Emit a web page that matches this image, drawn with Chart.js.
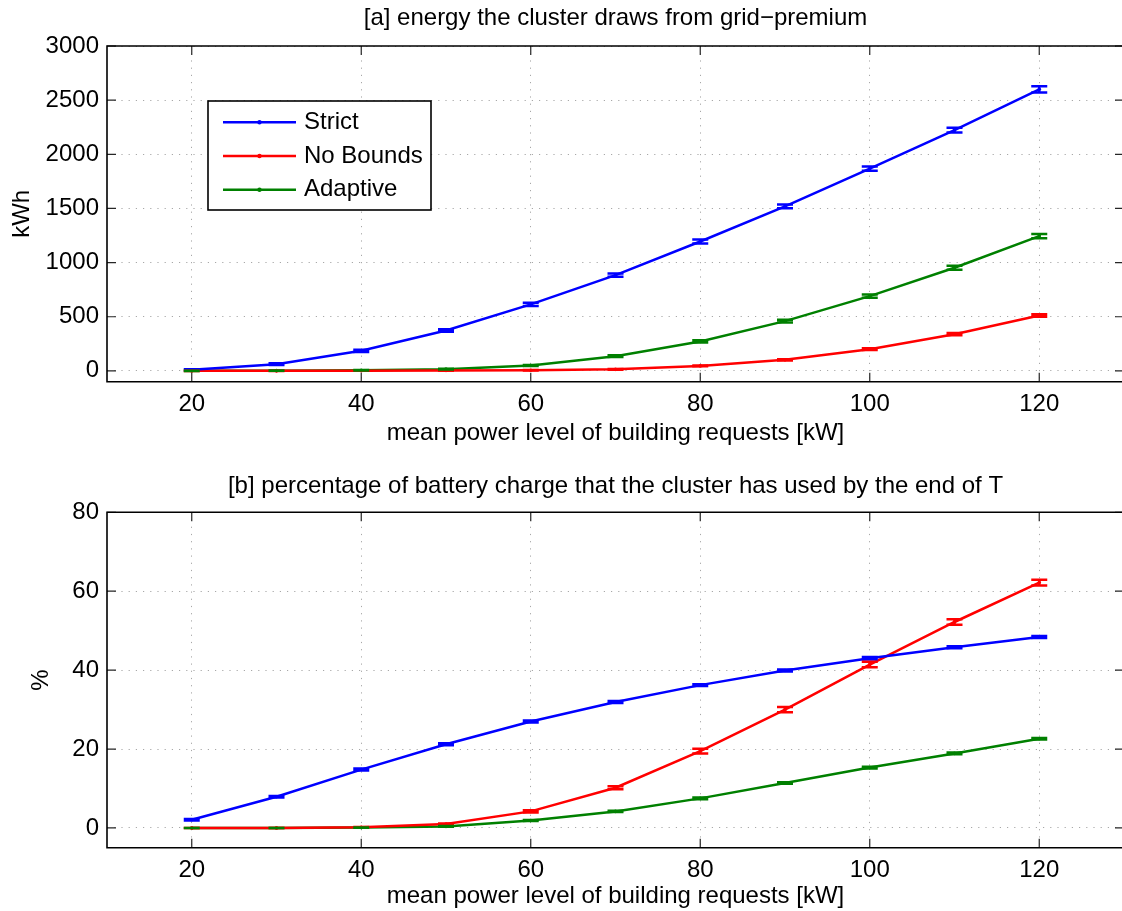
<!DOCTYPE html>
<html>
<head>
<meta charset="utf-8">
<script src="https://cdn.jsdelivr.net/npm/chart.js@4.4.1/dist/chart.umd.min.js"></script>
<style>
  html, body { margin: 0; padding: 0; overflow: hidden; background: #fff; width: 1122px; height: 911px; }
  #wrap { position: relative; width: 1122px; height: 911px; overflow: hidden; }
  #panelA { position: absolute; left: 0; top: 0; }
  #panelB { position: absolute; left: 0; top: 450px; }
</style>
</head>
<body>
<div id="wrap">
<canvas id="panelA" width="1140" height="450"></canvas>
<canvas id="panelB" width="1140" height="461"></canvas>
</div>
<script>
const powerLevels = [20, 30, 40, 50, 60, 70, 80, 90, 100, 110, 120];
const xTickVals = [20, 40, 60, 80, 100, 120];

// [a] kWh from grid-premium
const strictKwh = [10, 62, 185, 373, 614, 884, 1195, 1519, 1867, 2224, 2600];
const noBoundsKwh = [0, 0, 1, 3, 6, 14, 46, 102, 200, 339, 512];
const adaptiveKwh = [0, 2, 5, 16, 50, 136, 272, 459, 690, 952, 1245];
const strictKwhErr = [5, 8, 10, 12, 14, 16, 18, 18, 20, 22, 29];
const noBoundsKwhErr = [0.5, 0.5, 1, 1, 2, 3, 4, 6, 8, 10, 12];
const adaptiveKwhErr = [1, 1, 2, 3, 5, 8, 10, 12, 15, 18, 20];
const kwhTicks = [0, 500, 1000, 1500, 2000, 2500, 3000];

// [b] % of battery charge used
const strictPct = [2.1, 7.9, 14.8, 21.2, 27.0, 31.9, 36.2, 39.9, 43.0, 45.8, 48.4];
const noBoundsPct = [0, 0, 0.2, 1.0, 4.2, 10.2, 19.5, 30.0, 41.4, 52.2, 62.2];
const adaptivePct = [0, 0, 0.1, 0.4, 1.9, 4.2, 7.5, 11.4, 15.3, 18.9, 22.6];
const strictPctErr = [0.2, 0.2, 0.25, 0.25, 0.25, 0.25, 0.25, 0.25, 0.3, 0.25, 0.25];
const noBoundsPctErr = [0, 0, 0.05, 0.15, 0.3, 0.4, 0.6, 0.67, 0.7, 0.72, 0.72];
const adaptivePctErr = [0, 0, 0.05, 0.1, 0.15, 0.15, 0.2, 0.2, 0.2, 0.2, 0.2];
const pctTicks = [0, 20, 40, 60, 80];

const seriesNames = ["Strict", "No Bounds", "Adaptive"];
const seriesColors = ["#0000ff", "#ff0000", "#008000"];

const FONT = "'Liberation Sans', Arial, Helvetica, sans-serif";
const FS = 24;

function makeSet(i, values, errs) {
  return {
    label: seriesNames[i],
    data: powerLevels.map((x, k) => ({ x: x, y: values[k] })),
    errorBars: errs,
    borderColor: seriesColors[i],
    backgroundColor: seriesColors[i],
    borderWidth: 2.5,
    pointRadius: 1.8,
    pointBorderWidth: 0,
    pointHoverRadius: 1.8,
    tension: 0,
  };
}

// error bars, inward ticks and the box, MATLAB style
const matlabFrame = {
  id: "matlabFrame",
  afterDatasetsDraw(chart) {
    const ctx = chart.ctx;
    const { left, right, top, bottom } = chart.chartArea;
    const xs = chart.scales.x;
    const ys = chart.scales.y;
    chart.data.datasets.forEach((ds) => {
      ctx.save();
      ctx.strokeStyle = ds.borderColor;
      ctx.lineWidth = 2.5;
      ds.data.forEach((p, k) => {
        const e = ds.errorBars[k];
        const px = xs.getPixelForValue(p.x);
        const y1 = ys.getPixelForValue(p.y - e);
        const y2 = ys.getPixelForValue(p.y + e);
        ctx.beginPath();
        ctx.moveTo(px, y1);
        ctx.lineTo(px, y2);
        ctx.moveTo(px - 8, y1);
        ctx.lineTo(px + 8, y1);
        ctx.moveTo(px - 8, y2);
        ctx.lineTo(px + 8, y2);
        ctx.stroke();
      });
      ctx.restore();
    });

    ctx.save();
    ctx.strokeStyle = "#262626";
    ctx.lineWidth = 1.2;
    ctx.beginPath();
    xs.ticks.forEach((t) => {
      const px = xs.getPixelForValue(t.value);
      ctx.moveTo(px, bottom);
      ctx.lineTo(px, bottom - 9);
      ctx.moveTo(px, top);
      ctx.lineTo(px, top + 9);
    });
    ys.ticks.forEach((t) => {
      const py = ys.getPixelForValue(t.value);
      ctx.moveTo(left, py);
      ctx.lineTo(left + 9, py);
      ctx.moveTo(right, py);
      ctx.lineTo(right - 9, py);
    });
    ctx.stroke();
    // box: the right side lies past the page edge, as in the source figure
    ctx.strokeStyle = "#000";
    ctx.lineWidth = 1.6;
    ctx.beginPath();
    ctx.moveTo(right, top);
    ctx.lineTo(left, top);
    ctx.lineTo(left, bottom);
    ctx.lineTo(right, bottom);
    ctx.stroke();
    ctx.restore();
  },
};

// title centred over the plot box
const subplotTitle = {
  id: "subplotTitle",
  afterDraw(chart, args, opts) {
    const ctx = chart.ctx;
    const { left, right } = chart.chartArea;
    ctx.save();
    ctx.font = FS + "px " + FONT;
    ctx.fillStyle = "#000";
    ctx.textAlign = "center";
    ctx.textBaseline = "middle";
    ctx.fillText(opts.text, (left + right) / 2, opts.y);
    ctx.restore();
  },
};

// boxed legend inside the plot
const boxLegend = {
  id: "boxLegend",
  afterDraw(chart, args, opts) {
    if (!opts.show) return;
    const ctx = chart.ctx;
    const { left, top } = chart.chartArea;
    const bx = left + 101, by = top + 55, bw = 223, bh = 109;
    ctx.save();
    ctx.fillStyle = "#fff";
    ctx.fillRect(bx, by, bw, bh);
    ctx.strokeStyle = "#000";
    ctx.lineWidth = 1.6;
    ctx.strokeRect(bx, by, bw, bh);
    ctx.font = FS + "px " + FONT;
    ctx.textBaseline = "middle";
    chart.data.datasets.forEach((ds, i) => {
      const ry = by + 21.3 + i * 33.7;
      ctx.strokeStyle = ds.borderColor;
      ctx.lineWidth = 2.5;
      ctx.beginPath();
      ctx.moveTo(bx + 15, ry);
      ctx.lineTo(bx + 88, ry);
      ctx.stroke();
      ctx.fillStyle = ds.borderColor;
      ctx.beginPath();
      ctx.arc(bx + 51.5, ry, 2.2, 0, Math.PI * 2);
      ctx.fill();
      ctx.fillStyle = "#000";
      ctx.fillText(ds.label, bx + 96, ry);
    });
    ctx.restore();
  },
};

function makeOptions(cfg) {
  return {
    responsive: false,
    animation: false,
    layout: { padding: { top: cfg.padTop, right: 16, left: 0, bottom: 0 } },
    plugins: {
      legend: { display: false },
      tooltip: { enabled: false },
      subplotTitle: { text: cfg.title, y: cfg.titleY },
      boxLegend: { show: cfg.legend },
    },
    scales: {
      x: {
        type: "linear",
        min: 10,
        max: 130,
        afterBuildTicks: (s) => { s.ticks = xTickVals.map((v) => ({ value: v })); },
        afterFit: (s) => { s.height = cfg.xHeight; },
        grid: { color: "#a8a8a8", lineWidth: 1, drawTicks: false },
        border: { display: false, dash: [1.2, 6] },
        ticks: { color: "#000", padding: 8, font: { family: FONT, size: FS }, callback: (v) => String(v) },
        title: {
          display: true,
          text: "mean power level of building requests [kW]",
          color: "#000",
          font: { family: FONT, size: FS },
          padding: { top: 0, bottom: cfg.xTitlePad },
        },
      },
      y: {
        type: "linear",
        min: cfg.yMin,
        max: cfg.yMax,
        afterBuildTicks: (s) => { s.ticks = cfg.yTicks.map((v) => ({ value: v })); },
        afterFit: (s) => { s.width = 107; },
        grid: { color: "#a8a8a8", lineWidth: 1, drawTicks: false },
        border: { display: false, dash: [1.2, 6] },
        ticks: { color: "#000", padding: 8, font: { family: FONT, size: FS }, callback: (v) => String(v) },
        title: {
          display: true,
          text: cfg.yTitle,
          color: "#000",
          font: { family: FONT, size: FS },
          padding: { top: cfg.yTitlePad, bottom: 0 },
        },
      },
    },
  };
}

new Chart(document.getElementById("panelA"), {
  type: "line",
  data: {
    datasets: [
      makeSet(0, strictKwh, strictKwhErr),
      makeSet(1, noBoundsKwh, noBoundsKwhErr),
      makeSet(2, adaptiveKwh, adaptiveKwhErr),
    ],
  },
  options: makeOptions({
    padTop: 46, xHeight: 68.3, xTitlePad: 2, yTitlePad: 8,
    yMin: -100, yMax: 3000, yTicks: kwhTicks, yTitle: "kWh",
    title: "[a] energy the cluster draws from grid\u2212premium", titleY: 18, legend: true,
  }),
  plugins: [matlabFrame, subplotTitle, boxLegend],
});

new Chart(document.getElementById("panelB"), {
  type: "line",
  data: {
    datasets: [
      makeSet(0, strictPct, strictPctErr),
      makeSet(1, noBoundsPct, noBoundsPctErr),
      makeSet(2, adaptivePct, adaptivePctErr),
    ],
  },
  options: makeOptions({
    padTop: 62.3, xHeight: 63.3, xTitlePad: 0, yTitlePad: 27,
    yMin: -5, yMax: 80, yTicks: pctTicks, yTitle: "%",
    title: "[b] percentage of battery charge that the cluster has used by the end of T", titleY: 36, legend: false,
  }),
  plugins: [matlabFrame, subplotTitle, boxLegend],
});
</script>
</body>
</html>
